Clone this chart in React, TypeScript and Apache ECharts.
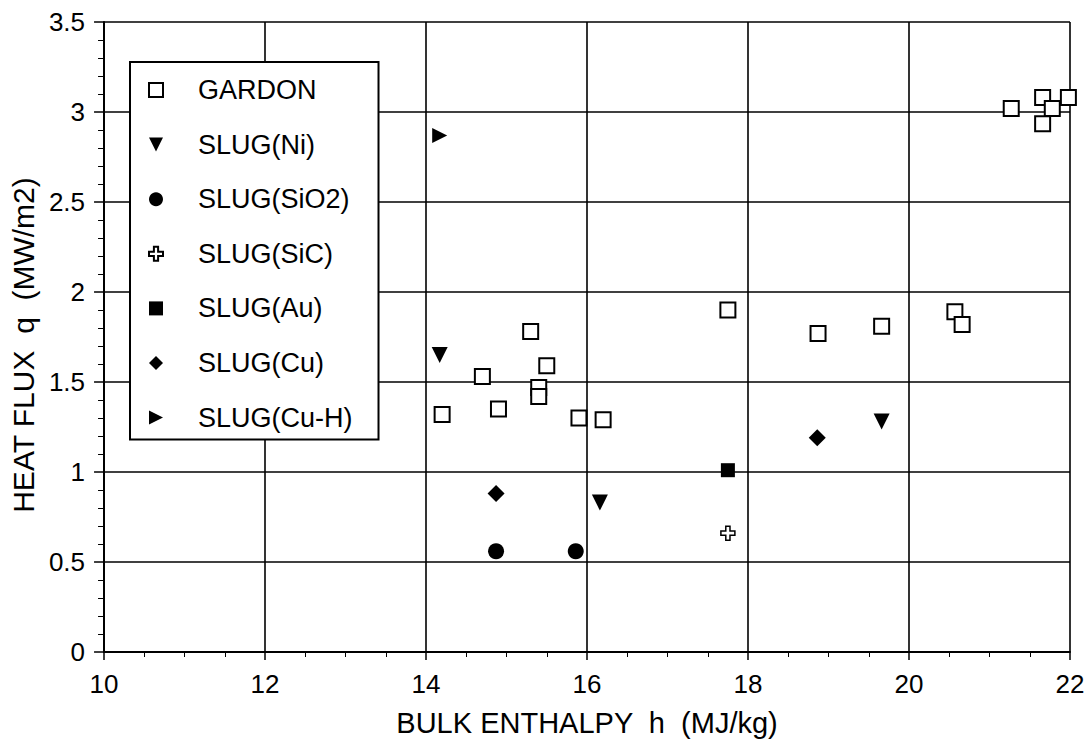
import React, { useEffect, useRef } from "react";
import * as echarts from "echarts";

const seriesNames = [
  "GARDON",
  "SLUG(Ni)",
  "SLUG(SiO2)",
  "SLUG(SiC)",
  "SLUG(Au)",
  "SLUG(Cu)",
  "SLUG(Cu-H)",
];

const gardon = [
  [14.2, 1.32], [14.7, 1.53], [14.9, 1.35], [15.3, 1.78], [15.4, 1.47],
  [15.4, 1.42], [15.5, 1.59], [15.9, 1.3], [16.2, 1.29], [17.75, 1.9],
  [18.87, 1.77], [19.66, 1.81], [20.57, 1.89], [20.66, 1.82], [21.27, 3.02],
  [21.66, 3.08], [21.78, 3.02], [21.66, 2.935], [21.98, 3.08],
];
const slugNi = [[14.17, 1.65], [16.16, 0.83], [19.66, 1.28]];
const slugSiO2 = [[14.87, 0.56], [15.86, 0.56]];
const slugSiC = [[17.75, 0.66]];
const slugAu = [[17.75, 1.01]];
const slugCu = [[14.87, 0.88], [18.86, 1.19]];
const slugCuH = [[14.17, 2.87]];

const xTicks = { min: 10, max: 22, interval: 2 };
const yTicks = { min: 0, max: 3.5, interval: 0.5 };

const FONT = "'Liberation Sans', Arial, Helvetica, sans-serif";

const downTri = "path://M0,0L10,0L5,10Z";
const rightTri = "path://M0,0L10,5L0,10Z";
const plusOutline = "path://M3.5,0H6.5V3.5H10V6.5H6.5V10H3.5V6.5H0V3.5H3.5Z";

export default function App() {
  const ref = useRef<HTMLDivElement>(null);
  useEffect(() => {
    if (!ref.current) return;
    const chart = echarts.init(ref.current, null, { renderer: "svg" });
    const base = { type: "scatter" as const, z: 5 };
    const solid = { color: "#000", opacity: 1 };
    chart.setOption({
      animation: false,
      backgroundColor: "#ffffff",
      textStyle: { fontFamily: FONT },
      grid: { left: 103, right: 18, top: 22, bottom: 85 },
      legend: {
        orient: "vertical",
        left: 130,
        top: 62,
        padding: [14, 26, 8, 18],
        borderColor: "#000",
        borderWidth: 2,
        backgroundColor: "#fff",
        itemWidth: 14,
        itemHeight: 14,
        itemGap: 26.6,
        textStyle: {
          fontSize: 27,
          color: "#000",
          fontFamily: FONT,
          lineHeight: 28,
          padding: [0, 0, 0, 30],
        },
        data: seriesNames,
        z: 10,
      },
      xAxis: {
        type: "value",
        min: xTicks.min,
        max: xTicks.max,
        interval: xTicks.interval,
        name: "BULK ENTHALPY  h  (MJ/kg)",
        nameLocation: "middle",
        nameGap: 56,
        nameTextStyle: { fontSize: 29, color: "#000", fontFamily: FONT },
        axisLine: { show: true, onZero: false, lineStyle: { color: "#000", width: 2 } },
        axisTick: { show: true, inside: false, length: 8, lineStyle: { color: "#000", width: 1.5 } },
        minorTick: { show: true, splitNumber: 4, length: 5, lineStyle: { color: "#000", width: 1 } },
        axisLabel: { fontSize: 26, color: "#000", margin: 19, fontFamily: FONT },
        splitLine: { show: true, lineStyle: { color: "#000", width: 1.6 } },
      },
      yAxis: {
        type: "value",
        min: yTicks.min,
        max: yTicks.max,
        interval: yTicks.interval,
        name: "HEAT FLUX  q  (MW/m2)",
        nameLocation: "middle",
        nameGap: 63,
        nameTextStyle: {
          fontSize: 30,
          color: "#000",
          fontFamily: FONT,
          padding: [0, 16, 0, 0],
        },
        axisLine: { show: true, onZero: false, lineStyle: { color: "#000", width: 2 } },
        axisTick: { show: true, inside: false, length: 10, lineStyle: { color: "#000", width: 1.5 } },
        minorTick: { show: true, splitNumber: 5, length: 6, lineStyle: { color: "#000", width: 1 } },
        axisLabel: {
          fontSize: 26,
          color: "#000",
          margin: 19,
          fontFamily: FONT,
          formatter: (v: number) => String(v),
        },
        splitLine: { show: true, lineStyle: { color: "#000", width: 1.6 } },
      },
      series: [
        {
          ...base,
          name: seriesNames[0],
          data: gardon,
          symbol: "rect",
          symbolSize: 15,
          itemStyle: { color: "#fff", borderColor: "#000", borderWidth: 2, opacity: 1 },
        },
        {
          ...base,
          name: seriesNames[1],
          data: slugNi,
          symbol: downTri,
          symbolSize: [16, 16],
          itemStyle: solid,
        },
        {
          ...base,
          name: seriesNames[2],
          data: slugSiO2,
          symbol: "circle",
          symbolSize: 16,
          itemStyle: solid,
        },
        {
          ...base,
          name: seriesNames[3],
          data: slugSiC,
          symbol: plusOutline,
          symbolSize: 14,
          itemStyle: { color: "#fff", borderColor: "#000", borderWidth: 1.5, opacity: 1 },
        },
        {
          ...base,
          name: seriesNames[4],
          data: slugAu,
          symbol: "rect",
          symbolSize: 14,
          itemStyle: solid,
        },
        {
          ...base,
          name: seriesNames[5],
          data: slugCu,
          symbol: "diamond",
          symbolSize: 17,
          itemStyle: solid,
        },
        {
          ...base,
          name: seriesNames[6],
          data: slugCuH,
          symbol: rightTri,
          symbolSize: [15, 15],
          itemStyle: solid,
        },
      ],
    });
    return () => chart.dispose();
  }, []);
  return (
    <div
      ref={ref}
      style={{ position: "fixed", left: 0, top: 0, width: 1088, height: 742 }}
    />
  );
}
